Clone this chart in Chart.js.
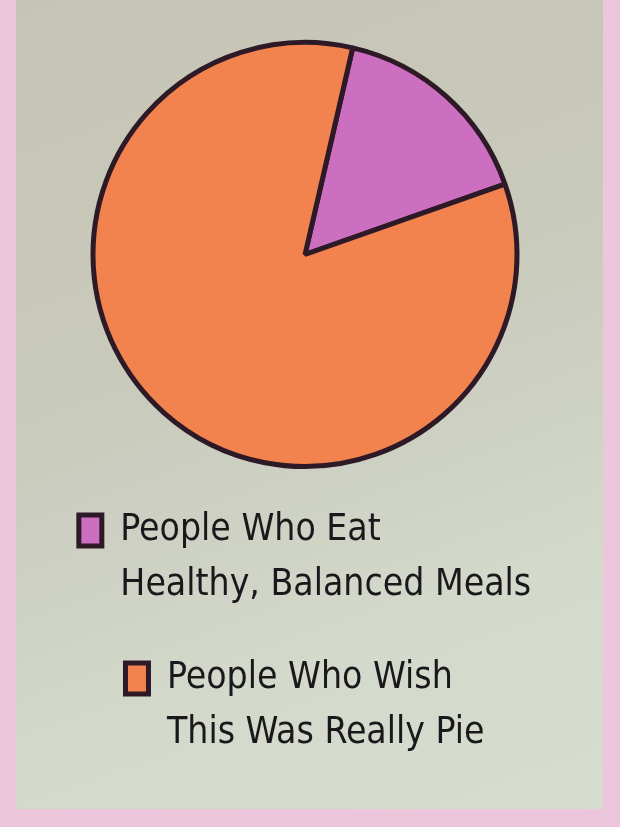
<!DOCTYPE html>
<html>
<head>
<meta charset="utf-8">
<script src="https://cdn.jsdelivr.net/npm/chart.js@4/dist/chart.umd.min.js"></script>
<style>
  html, body { margin: 0; padding: 0; }
  body { width: 620px; height: 827px; background: #ecc6da; position: relative; overflow: hidden; }
  #poster {
    position: absolute; left: 16px; top: 0; width: 587px; height: 809px;
    background: linear-gradient(160deg, #c6c4b5 0%, #c9cbbd 45%, #d3d9cb 75%, #d6dccf 100%);
  }
  #wrap { position: absolute; left: 0; top: 0; width: 620px; height: 827px; }
</style>
</head>
<body>
<div id="poster"></div>
<div id="wrap"><canvas id="pieChart"></canvas></div>
<script>
var labels = [
    ['People Who Eat', 'Healthy, Balanced Meals'],
    ['People Who Wish', 'This Was Really Pie']
];
var values = [16, 84];
var sliceColors = ['#cd6fc0', '#f2834f'];
var outlineColor = '#2d1a26';

// legend measures the label with measureText(), so let a multi-line
// label report its longest line as its string form
function multiLine(lines) {
    var arr = lines.slice();
    var longest = lines.reduce((a, b) => a.length > b.length ? a : b);
    arr.toString = function () { return longest; };
    return arr;
}

// the legend clips to its own box, which is too short for the second line
// of the last item, so let it reach the bottom of the canvas
const legendRoom = {
    id: 'legendRoom',
    afterLayout(chart) {
        if (chart.legend) {
            chart.legend.bottom = chart.height;
        }
    }
};

const ctx = document.getElementById('pieChart').getContext('2d');

let mychart = new Chart(ctx, {
    type: 'pie',
    data: {
        labels: labels,
        datasets: [
            {
                data: values,
                backgroundColor: sliceColors,
                borderColor: outlineColor,
                borderWidth: 5,
                radius: 212,
                clip: false
            }
        ]
    },
    options: {
        responsive: true,
        maintainAspectRatio: false,
        animation: false,
        rotation: 13,
        layout: {
            padding: { top: 108, bottom: 133, left: 0, right: 10 }
        },
        plugins: {
            tooltip: { enabled: false },
            legend: {
                position: 'bottom',
                labels: {
                    color: '#1b181c',
                    boxWidth: 23,
                    boxHeight: 31,
                    padding: 111,
                    font: {
                        family: "'Liberation Sans Narrow', 'DejaVu Sans Condensed', sans-serif",
                        size: 37,
                        lineHeight: 1.48
                    },
                    generateLabels: function (chart) {
                        var items = Chart.overrides.pie.plugins.legend.labels.generateLabels(chart);
                        items.forEach(function (item) {
                            item.text = multiLine(item.text);
                        });
                        return items;
                    }
                }
            }
        }
    },
    plugins: [legendRoom]
});
</script>
</body>
</html>
